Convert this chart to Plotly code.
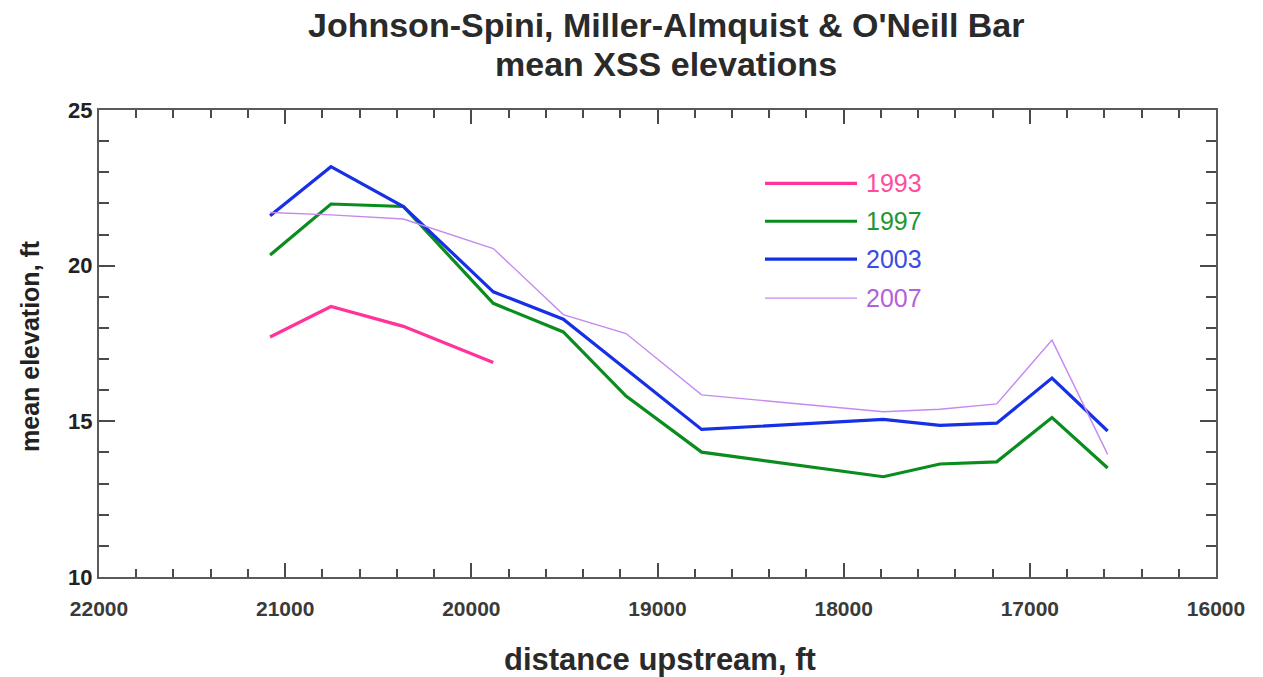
import plotly.graph_objects as go

# ---- data ----
dist = [21081, 20754, 20365, 19882, 19506, 19169, 18763, 17787, 17483, 17178, 16881, 16582]
dist_1993 = [21081, 20754, 20365, 19882]
elev_1993 = [17.71, 18.69, 18.05, 16.89]
elev_1997 = [20.34, 21.98, 21.90, 18.79, 17.87, 15.81, 14.01, 13.22, 13.63, 13.70, 15.12, 13.50]
elev_2003 = [21.60, 23.18, 21.90, 19.16, 18.28, 16.67, 14.74, 15.06, 14.87, 14.94, 16.39, 14.69]
elev_2007 = [21.71, 21.63, 21.50, 20.55, 18.43, 17.82, 15.85, 15.31, 15.39, 15.56, 17.61, 13.94]
years = ["1993", "1997", "2003", "2007"]
x_ticks = [22000, 21000, 20000, 19000, 18000, 17000, 16000]
y_ticks = [10, 15, 20, 25]
title_lines = ["Johnson-Spini, Miller-Almquist &amp; O'Neill Bar", "mean XSS elevations"]
x_title = "distance upstream, ft"
y_title = "mean elevation, ft"

line_colors = ["#FF3399", "#0B8C1E", "#1530E6", "#C48AF0"]
text_colors = ["#FF4D9E", "#1E9632", "#3A4BE6", "#B45FDC"]
widths = [3.2, 3.2, 3.2, 1.4]

series = [(dist_1993, elev_1993), (dist, elev_1997), (dist, elev_2003), (dist, elev_2007)]

fig = go.Figure()
for (xs, ys), name, c, w in zip(series, years, line_colors, widths):
    fig.add_trace(go.Scatter(x=xs, y=ys, mode="lines", name=name,
                             line=dict(color=c, width=w), showlegend=False))

# ---- layout helpers (pixel -> paper) ----
L, R, T, B = 99, 1216, 109.5, 577.5
W, H = R - L, B - T
def px(x):
    return (x - L) / W
def py(y):
    return (B - y) / H

FONT = "Liberation Sans, Arial"
shapes = []
annotations = []

# title as two tightly spaced lines
for txt, row in zip(title_lines, [24, 63]):
    annotations.append(dict(xref="paper", yref="paper", x=px(666), y=py(row),
                            xanchor="center", yanchor="middle", showarrow=False, text=txt,
                            font=dict(family=FONT, size=34, color="#2a2a2a", weight="bold")))

# axis titles
annotations.append(dict(xref="paper", yref="paper", x=px(660), y=py(660),
                        xanchor="center", yanchor="middle", showarrow=False, text=x_title,
                        font=dict(family=FONT, size=31, color="#2a2a2a", weight="bold")))
annotations.append(dict(xref="paper", yref="paper", x=px(30), y=py(346),
                        xanchor="center", yanchor="middle", showarrow=False, text=y_title,
                        textangle=-90,
                        font=dict(family=FONT, size=25, color="#222", weight="bold")))

# custom legend (long line samples, coloured text)
leg_rows = [183, 221, 259, 298]
for yr, row, c, tc, w in zip(years, leg_rows, line_colors, text_colors, widths):
    shapes.append(dict(type="line", xref="paper", yref="paper",
                       x0=px(765), x1=px(857), y0=py(row), y1=py(row),
                       line=dict(color=c, width=w)))
    annotations.append(dict(xref="paper", yref="paper", x=px(864), y=py(row),
                            xanchor="left", yanchor="middle", showarrow=False,
                            text=yr, font=dict(family=FONT, size=25, color=tc)))

axis_common = dict(
    showline=True, linecolor="#5a5a5a", linewidth=2, mirror="ticks",
    ticks="inside", tickcolor="#4a4a4a", tickwidth=1.5,
    showgrid=False, zeroline=False, automargin=False,
)

fig.update_layout(
    width=1263, height=677,
    paper_bgcolor="white", plot_bgcolor="white",
    margin=dict(l=L, r=1263 - R, t=T, b=677 - B),
    xaxis=dict(range=[22000, 16000], tickvals=x_ticks, ticktext=[str(v) for v in x_ticks],
               ticklen=14, ticklabelstandoff=12,
               minor=dict(dtick=200, ticklen=8, ticks="inside", tickcolor="#4a4a4a", tickwidth=1.5),
               tickfont=dict(family=FONT, size=21, color="#3a3a3a", weight="bold"),
               **axis_common),
    yaxis=dict(range=[10, 25], tickvals=y_ticks, ticktext=[str(v) for v in y_ticks],
               ticklen=16,
               minor=dict(dtick=1, ticklen=10, ticks="inside", tickcolor="#4a4a4a", tickwidth=1.5),
               tickfont=dict(family=FONT, size=22, color="#222", weight="bold"),
               **axis_common),
    shapes=shapes,
    annotations=annotations,
)

fig.write_html("out.html")
